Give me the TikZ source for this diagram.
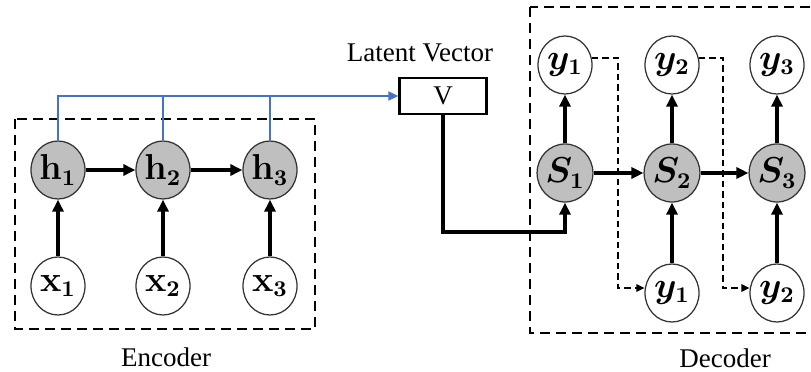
\documentclass[tikz,border=0pt]{standalone}
\usepackage{amsmath}
\usepackage{amssymb}
\usepackage{fontspec}
\setmainfont{Liberation Serif}
\usetikzlibrary{arrows.meta,shapes.geometric}

\tikzset{
  hid/.style={ellipse,draw=black!80,line width=0.5pt,fill=gray!50,minimum width=21.6pt,
    minimum height=23.2pt,inner sep=0pt,font=\fontsize{13.5}{15}\selectfont\boldmath},
  vis/.style={hid,fill=white},
  flow/.style={-{Triangle[length=4.8pt,width=4.4pt]},line width=1.3pt},
  feed/.style={-{Triangle[length=3.2pt,width=3pt]},line width=0.7pt,dash pattern=on 2.6pt off 1.6pt},
  frame/.style={line width=0.9pt,dash pattern=on 4pt off 2.4pt},
  latent/.style={-{Triangle[length=4pt,width=3.6pt]},line width=0.7pt,color={rgb,255:red,68;green,114;blue,196}},
  caption/.style={font=\fontsize{10.8}{13}\selectfont}
}

\begin{document}
\begin{tikzpicture}[x=0.4pt,y=-0.4pt]
\clip (0,0) rectangle (811,372);

\draw[frame] (15,119) rectangle (315,329);
\draw[frame] (530,7) rectangle (840,333);

\node[hid] (h1) at (58,170) {$\mathbf{h}_1$};
\node[hid] (h2) at (163,170) {$\mathbf{h}_2$};
\node[hid] (h3) at (270,170) {$\mathbf{h}_3$};
\node[vis] (x1) at (58,286) {$\mathbf{x}_1$};
\node[vis] (x2) at (163,286) {$\mathbf{x}_2$};
\node[vis] (x3) at (270,286) {$\mathbf{x}_3$};

\node[draw,line width=0.9pt,minimum width=34.8pt,minimum height=14.4pt,inner sep=0pt,caption] (V) at (443,96) {V};
\node[caption] (lv) at (420,53) {Latent Vector};

\node[hid] (s1) at (565,173) {$S_1$};
\node[hid] (s2) at (672,173) {$S_2$};
\node[hid] (s3) at (777,173) {$S_3$};
\node[vis] (y1) at (565,65) {$y_1$};
\node[vis] (y2) at (672,65) {$y_2$};
\node[vis] (y3) at (777,65) {$y_3$};
\node[vis] (z1) at (672,293) {$y_1$};
\node[vis] (z2) at (777,293) {$y_2$};

\node[caption] (enc) at (166,357) {Encoder};
\node[caption] (dec) at (725,358) {Decoder};

\coordinate (bend) at (565,232);
\coordinate (t1) at (618,288);
\coordinate (t2) at (723,288);

\foreach \i in {1,2,3}{
  \draw[flow] (x\i) -- (h\i);
  \draw[flow] (s\i) -- (y\i);
}
\draw[flow] (h1) -- (h2);
\draw[flow] (h2) -- (h3);
\draw[flow] (s1) -- (s2);
\draw[flow] (s2) -- (s3);
\draw[flow] (z1) -- (s2);
\draw[flow] (z2) -- (s3);
\draw[flow] (V.south) |- (bend) -- (s1.south);

\draw[latent] (h1.north) |- (V.west);
\draw[latent,-] (h2.north) -- (h2.north |- V.west);
\draw[latent,-] (h3.north) -- (h3.north |- V.west);

\draw[feed] (y1.15) -| (t1) -- (t1 -| z1.west);
\draw[feed] (y2.15) -| (t2) -- (t2 -| z2.west);
\end{tikzpicture}
\end{document}
